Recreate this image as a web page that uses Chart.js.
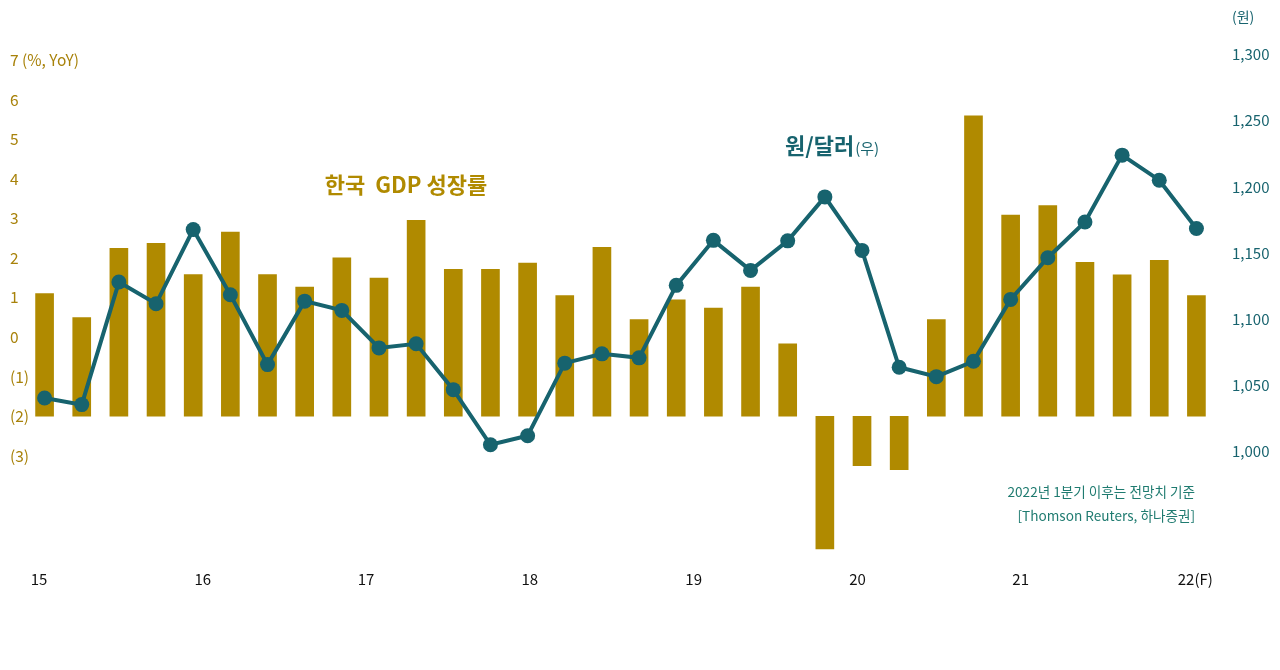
<!DOCTYPE html>
<html>
<head>
<meta charset="utf-8">
<script src="https://cdn.jsdelivr.net/npm/chart.js@4/dist/chart.umd.min.js"></script>
<style>
  html,body{margin:0;padding:0;background:#fff;}
  #wrap{width:1280px;height:670px;position:relative;}
</style>
</head>
<body>
<div id="wrap"><canvas id="gdp-canvas" width="1280" height="670"></canvas></div>
<script>
// quarters 2015 1Q ~ 2022 4Q
const quarters=['15.1Q','15.2Q','15.3Q','15.4Q','16.1Q','16.2Q','16.3Q','16.4Q',
  '17.1Q','17.2Q','17.3Q','17.4Q','18.1Q','18.2Q','18.3Q','18.4Q',
  '19.1Q','19.2Q','19.3Q','19.4Q','20.1Q','20.2Q','20.3Q','20.4Q',
  '21.1Q','21.2Q','21.3Q','21.4Q','22.1Q','22.2Q','22.3Q','22.4Q']

// 한국 GDP 성장률 (read on left axis)
const gdpGrowth=[1.10,0.49,2.24,2.37,1.58,2.65,1.58,1.26,2.00,1.49,2.95,1.71,1.71,1.87,1.05,2.27,
  0.44,0.94,0.73,1.26,-0.17,-5.35,-3.25,-3.35,0.44,5.59,3.08,3.32,1.89,1.57,1.94,1.05]
const gdpBase=-2

// 원/달러 (right axis)
const krwUsd=[1040.6,1035.6,1128.1,1111.7,1167.7,1118.5,1065.8,1113.7,1106.7,1078.4,1081.5,1046.9,
  1005.3,1012.1,1066.9,1073.9,1070.9,1125.6,1159.6,1136.9,1159.2,1192.4,1152.0,1063.8,
  1056.7,1068.3,1115.0,1146.5,1173.4,1223.9,1205.0,1168.5]

// tick labels
const leftTicks=[7,6,5,4,3,2,1,0,-1,-2,-3]
const leftTickLabels=['7 (%, YoY)','6','5','4','3','2','1','0','(1)','(2)','(3)']
const rightTicks=[1300,1250,1200,1150,1100,1050,1000]
const rightTickLabels=['1,300','1,250','1,200','1,150','1,100','1,050','1,000']
const yearTickPos=[-0.15,4.26,8.65,13.06,17.47,21.88,26.27,30.97]
const yearLabels=['15','16','17','18','19','20','21','22(F)']

const GOLD='#b08a00'
const TEAL='#17636e'
const FONT='"Noto Sans CJK KR","Noto Sans",sans-serif'

// texts drawn on top
const notes={
  id:'notes',
  afterDraw(chart){
    const c=chart.ctx
    const yR=chart.scales.yR
    c.save()
    c.textBaseline='middle'
    c.textAlign='left'
    c.fillStyle=TEAL
    c.font='14px '+FONT
    c.fillText('(원)',yR.left+17,17)

    c.textAlign='center'
    c.fillStyle=GOLD
    c.font='bold 22px '+FONT
    c.fillText('한국  GDP 성장률',406,185)

    c.textAlign='left'
    c.fillStyle=TEAL
    c.font='bold 22px '+FONT
    c.fillText('원/달러',785,146)
    const w=c.measureText('원/달러').width
    c.font='15px '+FONT
    c.fillText('(우)',785+w+1,148)

    c.textAlign='right'
    c.fillStyle='#1f7b70'
    c.font='13.6px '+FONT
    c.fillText('2022년 1분기 이후는 전망치 기준',1195,492)
    c.fillText('[Thomson Reuters, 하나증권]',1195,516)
    c.restore()
  }
}

const canvas=document.getElementById('gdp-canvas')

new Chart(canvas,{
  data:{
    labels:quarters,
    datasets:[
      {
        type:'line',
        label:'원/달러',
        data:krwUsd,
        yAxisID:'yR',
        borderColor:TEAL,
        backgroundColor:TEAL,
        borderWidth:4,
        pointRadius:7.5,
        pointBorderWidth:0,
        tension:0,
        order:0
      },
      {
        type:'bar',
        label:'한국 GDP 성장률',
        data:gdpGrowth,
        base:gdpBase,
        yAxisID:'yL',
        backgroundColor:GOLD,
        barThickness:18,
        order:1
      }
    ]
  },
  options:{
    responsive:false,
    animation:false,
    layout:{padding:{left:10,right:0,top:40,bottom:73}},
    plugins:{legend:{display:false},tooltip:{enabled:false}},
    scales:{
      x:{
        display:false,
        offset:true
      },
      xYear:{
        type:'linear',
        position:'bottom',
        min:-0.5,
        max:31.5,
        grid:{display:false,drawTicks:false},
        border:{display:false},
        afterBuildTicks(s){ s.ticks=yearTickPos.map(v=>({value:v})) },
        ticks:{
          padding:9,
          autoSkip:false,
          maxRotation:0,
          color:'#111',
          font:{family:FONT,size:15},
          callback:(v,i)=>yearLabels[i]
        }
      },
      yL:{
        position:'left',
        min:-3-(560-455)/39.5,
        max:7+(60-40)/39.5,
        grid:{display:false,drawTicks:false},
        border:{display:false},
        afterBuildTicks(s){ s.ticks=leftTicks.map(v=>({value:v})) },
        afterFit(s){ s.width=16 },
        ticks:{
          mirror:true,
          padding:-16,
          color:'#a8820a',
          font:{family:FONT,size:15.5},
          callback:(v,i)=>leftTickLabels[i]
        }
      },
      yR:{
        position:'right',
        min:1000-(560-451)/1.322,
        max:1300+(54.3-40)/1.322,
        grid:{display:false,drawTicks:false},
        border:{display:false},
        afterBuildTicks(s){ s.ticks=rightTicks.map(v=>({value:v})) },
        afterFit(s){ s.width=65 },
        ticks:{
          padding:17,
          color:TEAL,
          font:{family:FONT,size:15},
          callback:(v,i)=>rightTickLabels[i]
        }
      }
    }
  },
  plugins:[notes]
})
</script>
</body>
</html>
